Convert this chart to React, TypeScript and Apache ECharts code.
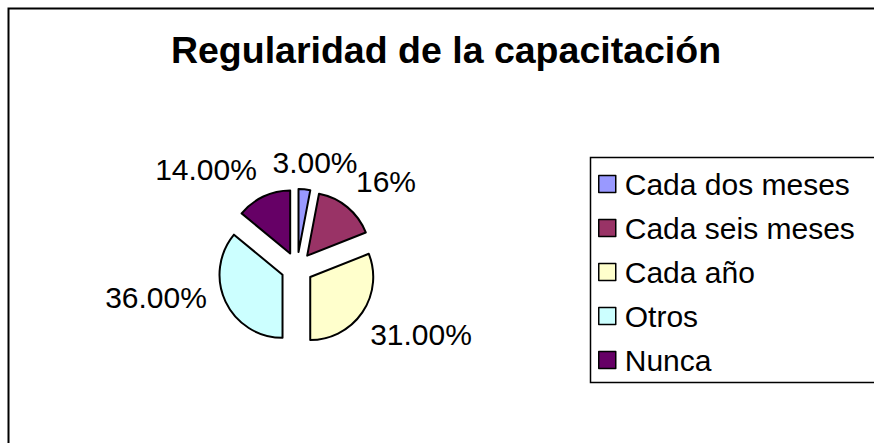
import React, { useEffect, useRef } from "react";
import * as echarts from "echarts";

const categories = ["Cada dos meses", "Cada seis meses", "Cada año", "Otros", "Nunca"];
const values = [3, 16, 31, 36, 14];
const labelTexts = ["3.00%", "16%", "31.00%", "36.00%", "14.00%"];
const colors = ["#9999FF", "#993366", "#FFFFCC", "#CCFFFF", "#660066"];
const titleText = "Regularidad de la capacitación";

// label anchor offsets relative to pie centre (layout only)
const labelOffsets = [
  [18, -106],
  [89, -87],
  [124, 66],
  [-141, 29],
  [-91, -99],
];

const FONT = "Arial, 'Liberation Sans', sans-serif";
const CX = 297;
const CY = 268;

export default function App() {
  const ref = useRef<HTMLDivElement>(null);
  useEffect(() => {
    if (!ref.current) return;
    document.body.style.margin = "0";
    document.body.style.overflow = "hidden";
    const chart = echarts.init(ref.current, undefined, { renderer: "svg" });
    chart.setOption({
      animation: false,
      backgroundColor: "#ffffff",
      title: {
        text: titleText,
        left: 446,
        top: 31,
        padding: 0,
        textAlign: "center",
        textStyle: { fontFamily: FONT, fontSize: 37.5, fontWeight: "bold", color: "#000" },
      },
      graphic: [
        {
          type: "rect",
          shape: { x: 8.5, y: 8.5, width: 1000, height: 1000 },
          style: { fill: "none", stroke: "#000", lineWidth: 2 },
          silent: true,
        },
        {
          type: "rect",
          shape: { x: 590.5, y: 157.5, width: 400, height: 225 },
          style: { fill: "#fff", stroke: "#000", lineWidth: 1.5 },
          silent: true,
          z: -1,
        },
      ],
      legend: {
        orient: "vertical",
        left: 598,
        top: 169,
        padding: 0,
        itemWidth: 17,
        itemHeight: 17,
        itemGap: 14,
        icon: "rect",
        selectedMode: false,
        data: categories,
        itemStyle: { borderColor: "#000", borderWidth: 1.5 },
        textStyle: { fontFamily: FONT, fontSize: 30, lineHeight: 30, color: "#000", padding: [0, 0, 0, 4] },
      },
      series: [
        {
          type: "pie",
          center: [CX, CY],
          radius: 63,
          startAngle: 90,
          clockwise: true,
          selectedMode: "multiple",
          selectedOffset: 16,
          avoidLabelOverlap: false,
          silent: true,
          emphasis: { disabled: true },
          itemStyle: { borderColor: "#000", borderWidth: 2 },
          select: { itemStyle: { borderColor: "#000", borderWidth: 2 } },
          labelLine: { show: false },
          label: { show: false },
          data: categories.map((name, i) => ({
            name,
            value: values[i],
            selected: true,
            itemStyle: { color: colors[i] },
          })),
        },
        {
          type: "pie",
          center: [CX, CY],
          radius: 63,
          startAngle: 90,
          clockwise: true,
          selectedMode: false,
          avoidLabelOverlap: false,
          silent: true,
          z: 3,
          emphasis: { disabled: true },
          itemStyle: { color: "rgba(0,0,0,0)", borderWidth: 0 },
          labelLine: { show: false },
          label: {
            show: true,
            position: "outside",
            fontFamily: FONT,
            fontSize: 30,
            color: "#000",
            formatter: (p: any) => labelTexts[p.dataIndex],
          },
          labelLayout: (p: any) => ({
            x: CX + labelOffsets[p.dataIndex][0],
            y: CY + labelOffsets[p.dataIndex][1],
            align: "center",
            verticalAlign: "middle",
          }),
          data: categories.map((name, i) => ({ name, value: values[i] })),
        },
      ],
    });
    return () => chart.dispose();
  }, []);
  return <div ref={ref} style={{ width: 874, height: 443 }} />;
}
